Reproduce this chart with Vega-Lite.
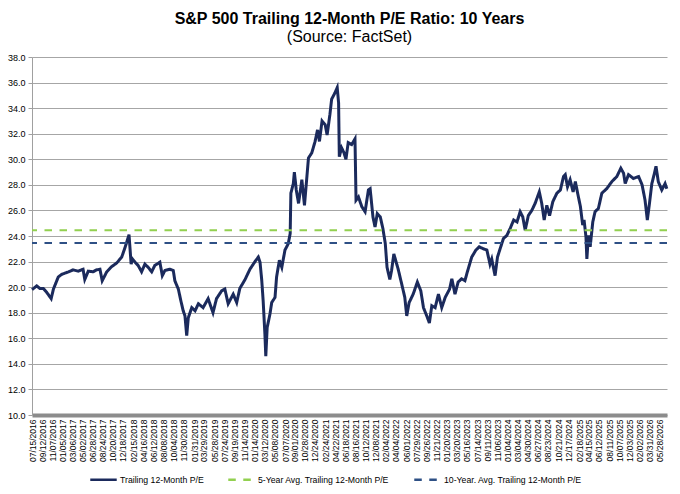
{
  "$schema": "https://vega.github.io/schema/vega-lite/v6.json",
  "width": 635,
  "height": 358,
  "autosize": {"type": "none"},
  "padding": {"left": 32, "top": 57, "right": 13, "bottom": 79},
  "background": "white",
  "title": {
    "text": "S&P 500 Trailing 12-Month P/E Ratio: 10 Years",
    "subtitle": "(Source: FactSet)",
    "fontSize": 16,
    "fontWeight": "bold",
    "subtitleFontSize": 16,
    "subtitlePadding": 2,
    "anchor": "middle",
    "offset": 8,
    "color": "#000000",
    "subtitleColor": "#000000"
  },
  "config": {
    "font": "Liberation Sans",
    "view": {"stroke": null}
  },
  "datasets": {
    "pe": [
      {"d": "2016-07-15", "pe": 19.8}, {"d": "2016-08-11", "pe": 20.1}, {"d": "2016-08-29", "pe": 19.9},
      {"d": "2016-09-18", "pe": 19.9}, {"d": "2016-10-07", "pe": 19.6}, {"d": "2016-11-02", "pe": 19.1},
      {"d": "2016-11-15", "pe": 19.85}, {"d": "2016-12-13", "pe": 20.8}, {"d": "2017-01-02", "pe": 21.0},
      {"d": "2017-02-10", "pe": 21.2}, {"d": "2017-03-08", "pe": 21.35}, {"d": "2017-04-06", "pe": 21.25},
      {"d": "2017-05-04", "pe": 21.4}, {"d": "2017-05-14", "pe": 20.6}, {"d": "2017-06-03", "pe": 21.25},
      {"d": "2017-07-01", "pe": 21.2}, {"d": "2017-07-20", "pe": 21.35}, {"d": "2017-08-09", "pe": 21.4},
      {"d": "2017-08-22", "pe": 20.5}, {"d": "2017-09-17", "pe": 21.2}, {"d": "2017-10-15", "pe": 21.6},
      {"d": "2017-11-14", "pe": 21.9}, {"d": "2017-12-12", "pe": 22.35}, {"d": "2017-12-31", "pe": 23.1},
      {"d": "2018-01-23", "pe": 24.1}, {"d": "2018-02-04", "pe": 21.8}, {"d": "2018-02-12", "pe": 22.2},
      {"d": "2018-02-27", "pe": 21.95}, {"d": "2018-03-16", "pe": 21.7}, {"d": "2018-04-05", "pe": 21.2},
      {"d": "2018-04-24", "pe": 21.8}, {"d": "2018-05-13", "pe": 21.55}, {"d": "2018-06-02", "pe": 21.2},
      {"d": "2018-06-20", "pe": 21.7}, {"d": "2018-07-19", "pe": 21.95}, {"d": "2018-08-02", "pe": 20.9},
      {"d": "2018-08-17", "pe": 21.3}, {"d": "2018-09-15", "pe": 21.4}, {"d": "2018-10-04", "pe": 21.3},
      {"d": "2018-10-13", "pe": 20.5}, {"d": "2018-11-02", "pe": 19.85}, {"d": "2018-11-17", "pe": 18.9},
      {"d": "2018-11-30", "pe": 18.15}, {"d": "2018-12-10", "pe": 17.75}, {"d": "2018-12-20", "pe": 16.2},
      {"d": "2018-12-29", "pe": 17.6}, {"d": "2019-01-18", "pe": 18.4}, {"d": "2019-02-06", "pe": 18.15},
      {"d": "2019-02-25", "pe": 18.7}, {"d": "2019-03-24", "pe": 18.4}, {"d": "2019-04-22", "pe": 19.1},
      {"d": "2019-05-20", "pe": 18.0}, {"d": "2019-06-09", "pe": 19.1}, {"d": "2019-07-08", "pe": 19.7},
      {"d": "2019-07-27", "pe": 19.85}, {"d": "2019-08-15", "pe": 18.7}, {"d": "2019-09-13", "pe": 19.45},
      {"d": "2019-10-03", "pe": 18.8}, {"d": "2019-10-21", "pe": 19.9}, {"d": "2019-11-20", "pe": 20.6},
      {"d": "2019-12-18", "pe": 21.4}, {"d": "2020-01-16", "pe": 22.0}, {"d": "2020-02-04", "pe": 22.35},
      {"d": "2020-02-14", "pe": 21.95}, {"d": "2020-02-24", "pe": 20.5}, {"d": "2020-03-03", "pe": 18.9},
      {"d": "2020-03-13", "pe": 16.3}, {"d": "2020-03-18", "pe": 14.6}, {"d": "2020-03-26", "pe": 16.85},
      {"d": "2020-04-11", "pe": 17.9}, {"d": "2020-04-21", "pe": 18.8}, {"d": "2020-05-10", "pe": 19.2},
      {"d": "2020-05-19", "pe": 20.8}, {"d": "2020-06-04", "pe": 22.1}, {"d": "2020-06-18", "pe": 21.55},
      {"d": "2020-07-06", "pe": 22.9}, {"d": "2020-07-25", "pe": 23.4}, {"d": "2020-08-05", "pe": 24.2},
      {"d": "2020-08-09", "pe": 27.35}, {"d": "2020-08-23", "pe": 28.1}, {"d": "2020-08-29", "pe": 29.0},
      {"d": "2020-09-09", "pe": 27.6}, {"d": "2020-09-22", "pe": 26.55}, {"d": "2020-10-11", "pe": 28.4},
      {"d": "2020-10-26", "pe": 26.4}, {"d": "2020-11-09", "pe": 28.65}, {"d": "2020-11-18", "pe": 30.1},
      {"d": "2020-12-07", "pe": 30.5}, {"d": "2020-12-26", "pe": 31.4}, {"d": "2021-01-09", "pe": 32.3},
      {"d": "2021-01-20", "pe": 31.4}, {"d": "2021-02-04", "pe": 33.0}, {"d": "2021-02-22", "pe": 32.7},
      {"d": "2021-03-05", "pe": 31.9}, {"d": "2021-03-21", "pe": 33.5}, {"d": "2021-03-31", "pe": 34.7},
      {"d": "2021-04-19", "pe": 35.2}, {"d": "2021-05-02", "pe": 35.6}, {"d": "2021-05-10", "pe": 34.4},
      {"d": "2021-05-14", "pe": 30.2}, {"d": "2021-05-27", "pe": 30.9}, {"d": "2021-06-10", "pe": 30.5},
      {"d": "2021-06-21", "pe": 30.0}, {"d": "2021-07-04", "pe": 31.3}, {"d": "2021-07-24", "pe": 31.15},
      {"d": "2021-08-12", "pe": 31.6}, {"d": "2021-08-18", "pe": 26.8}, {"d": "2021-09-01", "pe": 27.05},
      {"d": "2021-09-20", "pe": 26.3}, {"d": "2021-10-09", "pe": 25.9}, {"d": "2021-10-28", "pe": 27.6},
      {"d": "2021-11-07", "pe": 27.7}, {"d": "2021-11-23", "pe": 25.5}, {"d": "2021-12-05", "pe": 24.7},
      {"d": "2021-12-18", "pe": 25.75}, {"d": "2022-01-04", "pe": 25.5}, {"d": "2022-01-19", "pe": 24.6},
      {"d": "2022-02-02", "pe": 23.4}, {"d": "2022-02-12", "pe": 21.55}, {"d": "2022-02-28", "pe": 20.6},
      {"d": "2022-03-10", "pe": 21.3}, {"d": "2022-03-23", "pe": 22.6}, {"d": "2022-04-17", "pe": 21.4},
      {"d": "2022-05-07", "pe": 20.25}, {"d": "2022-05-25", "pe": 19.2}, {"d": "2022-06-05", "pe": 17.75},
      {"d": "2022-06-19", "pe": 18.8}, {"d": "2022-07-12", "pe": 19.45}, {"d": "2022-08-05", "pe": 20.4},
      {"d": "2022-08-25", "pe": 19.7}, {"d": "2022-09-09", "pe": 18.4}, {"d": "2022-09-28", "pe": 17.75},
      {"d": "2022-10-13", "pe": 17.2}, {"d": "2022-10-27", "pe": 18.55}, {"d": "2022-11-15", "pe": 18.4},
      {"d": "2022-12-04", "pe": 19.45}, {"d": "2022-12-23", "pe": 18.4}, {"d": "2023-01-12", "pe": 19.2},
      {"d": "2023-02-06", "pe": 19.85}, {"d": "2023-02-19", "pe": 20.65}, {"d": "2023-03-09", "pe": 19.45},
      {"d": "2023-03-27", "pe": 20.4}, {"d": "2023-04-16", "pe": 20.65}, {"d": "2023-05-05", "pe": 20.5},
      {"d": "2023-05-18", "pe": 21.15}, {"d": "2023-06-13", "pe": 22.35}, {"d": "2023-07-07", "pe": 22.9},
      {"d": "2023-07-26", "pe": 23.15}, {"d": "2023-08-19", "pe": 23.0}, {"d": "2023-09-08", "pe": 22.9},
      {"d": "2023-09-26", "pe": 21.8}, {"d": "2023-10-06", "pe": 22.2}, {"d": "2023-10-25", "pe": 20.9},
      {"d": "2023-11-08", "pe": 22.35}, {"d": "2023-11-23", "pe": 23.0}, {"d": "2023-12-12", "pe": 23.8},
      {"d": "2024-01-01", "pe": 24.05}, {"d": "2024-01-20", "pe": 24.6}, {"d": "2024-02-09", "pe": 25.25},
      {"d": "2024-02-28", "pe": 25.1}, {"d": "2024-03-17", "pe": 25.9}, {"d": "2024-04-01", "pe": 25.5},
      {"d": "2024-04-15", "pe": 24.45}, {"d": "2024-05-03", "pe": 25.6}, {"d": "2024-05-23", "pe": 26.0},
      {"d": "2024-06-11", "pe": 26.55}, {"d": "2024-07-05", "pe": 27.45}, {"d": "2024-07-19", "pe": 26.55},
      {"d": "2024-08-02", "pe": 25.25}, {"d": "2024-08-17", "pe": 26.4}, {"d": "2024-09-02", "pe": 25.6},
      {"d": "2024-09-21", "pe": 26.7}, {"d": "2024-10-14", "pe": 27.35}, {"d": "2024-11-03", "pe": 27.6},
      {"d": "2024-11-21", "pe": 28.65}, {"d": "2024-12-01", "pe": 28.8}, {"d": "2024-12-14", "pe": 27.85},
      {"d": "2024-12-29", "pe": 28.4}, {"d": "2025-01-15", "pe": 27.45}, {"d": "2025-01-28", "pe": 28.25},
      {"d": "2025-02-10", "pe": 27.35}, {"d": "2025-02-26", "pe": 26.3}, {"d": "2025-03-11", "pe": 24.85},
      {"d": "2025-03-19", "pe": 25.25}, {"d": "2025-03-30", "pe": 23.9}, {"d": "2025-04-04", "pe": 22.2},
      {"d": "2025-04-13", "pe": 24.05}, {"d": "2025-04-23", "pe": 23.15}, {"d": "2025-05-08", "pe": 25.1},
      {"d": "2025-05-21", "pe": 25.9}, {"d": "2025-06-09", "pe": 26.15}, {"d": "2025-06-29", "pe": 27.35},
      {"d": "2025-07-27", "pe": 27.7}, {"d": "2025-08-25", "pe": 28.25}, {"d": "2025-09-23", "pe": 28.65},
      {"d": "2025-10-16", "pe": 29.3}, {"d": "2025-11-01", "pe": 28.9}, {"d": "2025-11-10", "pe": 28.1},
      {"d": "2025-11-29", "pe": 28.8}, {"d": "2025-12-27", "pe": 28.5}, {"d": "2026-01-26", "pe": 28.65},
      {"d": "2026-02-15", "pe": 28.0}, {"d": "2026-03-04", "pe": 26.8}, {"d": "2026-03-17", "pe": 25.25},
      {"d": "2026-03-28", "pe": 26.4}, {"d": "2026-04-12", "pe": 28.1}, {"d": "2026-04-25", "pe": 28.8},
      {"d": "2026-05-06", "pe": 29.45}, {"d": "2026-05-19", "pe": 28.25}, {"d": "2026-06-08", "pe": 27.6},
      {"d": "2026-06-27", "pe": 28.1}, {"d": "2026-07-07", "pe": 27.7}
    ],
    "avg": [
      {"series": "5-Year Avg. Trailing 12-Month P/E", "v": 24.45},
      {"series": "10-Year. Avg. Trailing 12-Month P/E", "v": 23.45}
    ]
  },
  "encoding": {
    "y": {
      "type": "quantitative",
      "scale": {"domain": [10, 38], "nice": false, "zero": false},
      "axis": {
        "title": null,
        "values": [10, 12, 14, 16, 18, 20, 22, 24, 26, 28, 30, 32, 34, 36, 38],
        "format": ".1f",
        "labelFontSize": 9,
        "labelColor": "#000000",
        "labelPadding": 3,
        "tickSize": 4,
        "tickColor": "#a0a0a0",
        "domainColor": "#a0a0a0",
        "grid": true,
        "gridColor": "#a6a6a6",
        "gridWidth": 1
      }
    }
  },
  "layer": [
    {
      "data": {"name": "pe"},
      "mark": {"type": "line", "strokeWidth": 3, "interpolate": "linear"},
      "encoding": {
        "x": {
          "field": "d",
          "type": "temporal",
          "scale": {
            "type": "utc",
            "domain": [
              {"year": 2016, "month": 7, "date": 15, "utc": true},
              {"year": 2026, "month": 7, "date": 8, "utc": true}
            ]
          },
          "axis": {
            "title": null,
            "grid": false,
            "ticks": false,
            "tickSize": 0,
            "domainColor": "#8c8c8c",
            "domainWidth": 4,
            "labelAngle": 270,
            "labelAlign": "right",
            "labelBaseline": "middle",
            "labelFontSize": 8.5,
            "labelColor": "#000000",
            "labelPadding": 4,
            "labelOverlap": false,
            "labelFlush": false,
            "format": "%m/%d/%Y",
            "values": [
              {"year": 2016, "month": 7, "date": 15, "utc": true},
              {"year": 2016, "month": 9, "date": 12, "utc": true},
              {"year": 2016, "month": 11, "date": 7, "utc": true},
              {"year": 2017, "month": 1, "date": 5, "utc": true},
              {"year": 2017, "month": 3, "date": 6, "utc": true},
              {"year": 2017, "month": 5, "date": 2, "utc": true},
              {"year": 2017, "month": 6, "date": 28, "utc": true},
              {"year": 2017, "month": 8, "date": 24, "utc": true},
              {"year": 2017, "month": 10, "date": 20, "utc": true},
              {"year": 2017, "month": 12, "date": 18, "utc": true},
              {"year": 2018, "month": 2, "date": 15, "utc": true},
              {"year": 2018, "month": 4, "date": 16, "utc": true},
              {"year": 2018, "month": 6, "date": 12, "utc": true},
              {"year": 2018, "month": 8, "date": 8, "utc": true},
              {"year": 2018, "month": 10, "date": 4, "utc": true},
              {"year": 2018, "month": 11, "date": 30, "utc": true},
              {"year": 2019, "month": 1, "date": 31, "utc": true},
              {"year": 2019, "month": 3, "date": 29, "utc": true},
              {"year": 2019, "month": 5, "date": 28, "utc": true},
              {"year": 2019, "month": 7, "date": 24, "utc": true},
              {"year": 2019, "month": 9, "date": 19, "utc": true},
              {"year": 2019, "month": 11, "date": 14, "utc": true},
              {"year": 2020, "month": 1, "date": 14, "utc": true},
              {"year": 2020, "month": 3, "date": 12, "utc": true},
              {"year": 2020, "month": 5, "date": 8, "utc": true},
              {"year": 2020, "month": 7, "date": 7, "utc": true},
              {"year": 2020, "month": 9, "date": 1, "utc": true},
              {"year": 2020, "month": 10, "date": 28, "utc": true},
              {"year": 2020, "month": 12, "date": 24, "utc": true},
              {"year": 2021, "month": 2, "date": 24, "utc": true},
              {"year": 2021, "month": 4, "date": 22, "utc": true},
              {"year": 2021, "month": 6, "date": 18, "utc": true},
              {"year": 2021, "month": 8, "date": 16, "utc": true},
              {"year": 2021, "month": 10, "date": 12, "utc": true},
              {"year": 2021, "month": 12, "date": 8, "utc": true},
              {"year": 2022, "month": 2, "date": 4, "utc": true},
              {"year": 2022, "month": 4, "date": 4, "utc": true},
              {"year": 2022, "month": 6, "date": 1, "utc": true},
              {"year": 2022, "month": 7, "date": 29, "utc": true},
              {"year": 2022, "month": 9, "date": 26, "utc": true},
              {"year": 2022, "month": 11, "date": 21, "utc": true},
              {"year": 2023, "month": 1, "date": 20, "utc": true},
              {"year": 2023, "month": 3, "date": 20, "utc": true},
              {"year": 2023, "month": 5, "date": 16, "utc": true},
              {"year": 2023, "month": 7, "date": 14, "utc": true},
              {"year": 2023, "month": 9, "date": 11, "utc": true},
              {"year": 2023, "month": 11, "date": 6, "utc": true},
              {"year": 2024, "month": 1, "date": 4, "utc": true},
              {"year": 2024, "month": 3, "date": 4, "utc": true},
              {"year": 2024, "month": 4, "date": 30, "utc": true},
              {"year": 2024, "month": 6, "date": 27, "utc": true},
              {"year": 2024, "month": 8, "date": 23, "utc": true},
              {"year": 2024, "month": 10, "date": 21, "utc": true},
              {"year": 2024, "month": 12, "date": 17, "utc": true},
              {"year": 2025, "month": 2, "date": 18, "utc": true},
              {"year": 2025, "month": 4, "date": 15, "utc": true},
              {"year": 2025, "month": 6, "date": 12, "utc": true},
              {"year": 2025, "month": 8, "date": 11, "utc": true},
              {"year": 2025, "month": 10, "date": 7, "utc": true},
              {"year": 2025, "month": 12, "date": 3, "utc": true},
              {"year": 2026, "month": 2, "date": 2, "utc": true},
              {"year": 2026, "month": 3, "date": 31, "utc": true},
              {"year": 2026, "month": 5, "date": 28, "utc": true}
            ]
          }
        },
        "y": {"field": "pe", "type": "quantitative"},
        "color": {"datum": "Trailing 12-Month P/E"},
        "strokeDash": {"datum": "Trailing 12-Month P/E"}
      }
    },
    {
      "data": {"name": "avg"},
      "mark": {"type": "rule", "strokeWidth": 2},
      "encoding": {
        "y": {"field": "v", "type": "quantitative"},
        "color": {
          "field": "series",
          "type": "nominal",
          "scale": {
            "domain": ["Trailing 12-Month P/E", "5-Year Avg. Trailing 12-Month P/E", "10-Year. Avg. Trailing 12-Month P/E"],
            "range": ["#1b2a5c", "#92d050", "#2e5085"]
          },
          "legend": {
            "title": null,
            "orient": "none",
            "legendX": 57,
            "legendY": 408,
            "direction": "horizontal",
            "columns": 3,
            "padding": 0,
            "columnPadding": 19,
            "symbolType": "stroke",
            "symbolSize": 700,
            "symbolStrokeWidth": 2.5,
            "labelFontSize": 8.7,
            "labelColor": "#000000",
            "labelOffset": 2
          }
        },
        "strokeDash": {
          "field": "series",
          "type": "nominal",
          "scale": {
            "domain": ["Trailing 12-Month P/E", "5-Year Avg. Trailing 12-Month P/E", "10-Year. Avg. Trailing 12-Month P/E"],
            "range": [[1, 0], [7.5, 7.5], [7.5, 7.5]]
          },
          "legend": {
            "title": null,
            "orient": "none",
            "legendX": 57,
            "legendY": 408,
            "direction": "horizontal",
            "columns": 3,
            "padding": 0,
            "columnPadding": 19,
            "symbolType": "stroke",
            "symbolSize": 700,
            "symbolStrokeWidth": 2.5,
            "labelFontSize": 8.7,
            "labelColor": "#000000",
            "labelOffset": 2
          }
        }
      }
    }
  ]
}
